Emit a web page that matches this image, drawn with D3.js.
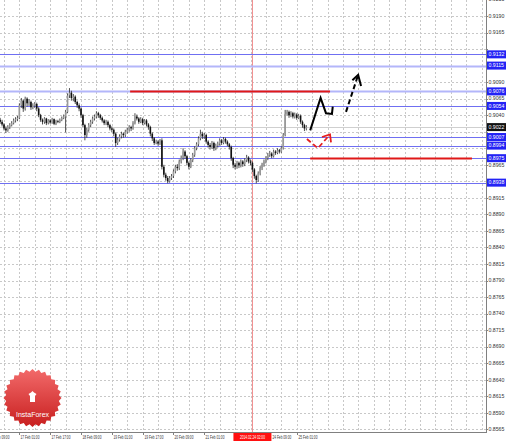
<!DOCTYPE html>
<html><head><meta charset="utf-8">
<script src="https://cdn.jsdelivr.net/npm/d3@7"></script>
<style>body{margin:0;background:#fff}svg{display:block}</style>
</head><body><svg id="c" width="510" height="443"></svg>
<script>
// ---------- DATA ----------
const firstBar = -10; // bar index of first candle (index 0 = 17 Feb 01:00, H1)
const barOpen = [0.9033,0.9030,0.9026,0.9020,0.9017,0.9022,0.9025,0.9028,0.9032,0.9034,
0.9036,0.9055,0.9062,0.9050,0.9065,0.9058,0.9060,0.9052,0.9055,0.9057,0.9050,0.9040,0.9033,
0.9030,0.9035,0.9028,0.9032,0.9029,0.9034,0.9027,0.9031,0.9030,0.9033,0.9036,
0.9038,0.9045,0.9070,0.9074,0.9066,0.9068,0.9060,0.9055,0.9050,0.9040,0.9025,0.9010,
0.9018,0.9025,0.9030,0.9035,0.9038,0.9043,0.9040,0.9036,0.9032,0.9028,0.9030,0.9025,0.9020,0.9018,
0.9012,0.8998,0.9003,0.9008,0.9012,0.9010,0.9015,0.9018,0.9022,0.9020,0.9028,
0.9038,0.9035,0.9030,0.9034,0.9028,0.9032,0.9026,0.9022,0.9012,0.9005,0.8998,0.9000,0.8997,
0.9002,0.8962,0.8950,0.8945,0.8940,0.8945,0.8948,0.8955,0.8962,0.8960,0.8970,0.8975,0.8985,
0.8978,0.8968,0.8962,0.8972,0.8980,0.8990,0.8996,0.9005,0.9012,0.9008,0.9010,
0.9000,0.8995,0.8992,0.8998,0.8990,0.8994,0.8997,0.9002,0.8998,0.9004,0.9000,0.8996,
0.8992,0.8975,0.8965,0.8962,0.8968,0.8964,0.8970,0.8966,0.8972,0.8976,0.8970,
0.8968,0.8958,0.8948,0.8942,0.8952,0.8960,0.8965,0.8970,0.8975,0.8980,0.8982,0.8978,0.8985,
0.8983,0.8987,0.8985,0.8990,0.9010,0.9042,0.9045,0.9040,0.9043,0.9038,0.9041,0.9036,
0.9039,0.9030,0.9025,0.9020];
const barHigh = [0.9036,0.9033,0.9028,0.9023,0.9025,0.9028,0.9031,0.9035,0.9037,0.9039,
0.9058,0.9066,0.9064,0.9068,0.9067,0.9064,0.9062,0.9058,0.9060,0.9059,0.9052,0.9042,0.9035,
0.9037,0.9036,0.9034,0.9034,0.9036,0.9035,0.9033,0.9033,0.9035,0.9038,0.9041,
0.9048,0.9073,0.9081,0.9077,0.9072,0.9070,0.9062,0.9058,0.9052,0.9042,0.9027,0.9021,
0.9028,0.9033,0.9038,0.9041,0.9046,0.9045,0.9042,0.9038,0.9034,0.9033,0.9032,0.9027,0.9023,0.9020,
0.9014,0.9006,0.9011,0.9015,0.9014,0.9018,0.9021,0.9025,0.9024,0.9031,0.9043,
0.9041,0.9037,0.9037,0.9036,0.9034,0.9034,0.9028,0.9024,0.9014,0.9007,0.9003,0.9002,0.9004,
0.9005,0.8965,0.8953,0.8948,0.8948,0.8951,0.8958,0.8965,0.8966,0.8973,0.8979,0.8990,
0.8987,0.8980,0.8970,0.8975,0.8983,0.8993,0.8999,0.9008,0.9018,0.9015,0.9013,
0.9012,0.9002,0.8998,0.9001,0.9000,0.8997,0.9000,0.9005,0.9004,0.9007,0.9006,0.9002,
0.8998,0.8994,0.8977,0.8968,0.8971,0.8970,0.8973,0.8972,0.8975,0.8980,0.8978,
0.8973,0.8970,0.8960,0.8950,0.8955,0.8963,0.8968,0.8973,0.8978,0.8983,0.8986,0.8984,0.8988,
0.8987,0.8990,0.8989,0.8993,0.9013,0.9048,0.9048,0.9047,0.9046,0.9045,0.9044,0.9043,
0.9042,0.9041,0.9032,0.9027,0.9025];
const barLow = [0.9027,0.9023,0.9017,0.9013,0.9015,0.9019,0.9023,0.9026,0.9029,0.9031,
0.9034,0.9051,0.9045,0.9047,0.9053,0.9054,0.9048,0.9049,0.9051,0.9046,0.9037,0.9030,0.9026,
0.9027,0.9025,0.9026,0.9027,0.9027,0.9025,0.9025,0.9028,0.9028,0.9031,0.9034,
0.9014,0.9043,0.9066,0.9062,0.9061,0.9057,0.9051,0.9046,0.9036,0.9022,0.9002,0.9006,
0.9015,0.9022,0.9027,0.9032,0.9035,0.9036,0.9033,0.9029,0.9025,0.9025,0.9022,0.9017,0.9014,0.9008,
0.8992,0.8995,0.9000,0.9005,0.9006,0.9007,0.9012,0.9015,0.9016,0.9018,0.9026,
0.9032,0.9027,0.9028,0.9025,0.9026,0.9023,0.9018,0.9008,0.9001,0.8995,0.8996,0.8994,0.8995,
0.8958,0.8946,0.8941,0.8937,0.8938,0.8942,0.8945,0.8952,0.8956,0.8957,0.8967,0.8972,
0.8974,0.8964,0.8958,0.8960,0.8969,0.8977,0.8987,0.8993,0.9002,0.9004,0.9004,
0.8997,0.8991,0.8988,0.8989,0.8986,0.8987,0.8991,0.8994,0.8995,0.8996,0.8997,0.8993,
0.8988,0.8971,0.8960,0.8958,0.8959,0.8960,0.8961,0.8962,0.8963,0.8969,0.8967,
0.8964,0.8954,0.8944,0.8937,0.8939,0.8949,0.8957,0.8962,0.8967,0.8972,0.8977,0.8975,0.8976,
0.8980,0.8981,0.8982,0.8983,0.8988,0.9008,0.9039,0.9036,0.9037,0.9035,0.9035,0.9033,
0.9034,0.9027,0.9021,0.9016,0.9017];
const barClose = [0.9030,0.9026,0.9020,0.9017,0.9022,0.9025,0.9028,0.9032,0.9034,0.9036,
0.9055,0.9062,0.9050,0.9065,0.9058,0.9060,0.9052,0.9055,0.9057,0.9050,0.9040,0.9033,0.9030,
0.9035,0.9028,0.9032,0.9029,0.9034,0.9027,0.9031,0.9030,0.9033,0.9036,0.9038,
0.9045,0.9070,0.9074,0.9066,0.9068,0.9060,0.9055,0.9050,0.9040,0.9025,0.9010,0.9018,
0.9025,0.9030,0.9035,0.9038,0.9043,0.9040,0.9036,0.9032,0.9028,0.9030,0.9025,0.9020,0.9018,0.9012,
0.8998,0.9003,0.9008,0.9012,0.9010,0.9015,0.9018,0.9022,0.9020,0.9028,0.9038,
0.9035,0.9030,0.9034,0.9028,0.9032,0.9026,0.9022,0.9012,0.9005,0.8998,0.9000,0.8997,0.9002,
0.8962,0.8950,0.8945,0.8940,0.8945,0.8948,0.8955,0.8962,0.8960,0.8970,0.8975,0.8985,
0.8978,0.8968,0.8962,0.8972,0.8980,0.8990,0.8996,0.9005,0.9012,0.9008,0.9010,0.9000,
0.8995,0.8992,0.8998,0.8990,0.8994,0.8997,0.9002,0.8998,0.9004,0.9000,0.8996,0.8992,
0.8975,0.8965,0.8962,0.8968,0.8964,0.8970,0.8966,0.8972,0.8976,0.8970,0.8968,
0.8958,0.8948,0.8942,0.8952,0.8960,0.8965,0.8970,0.8975,0.8980,0.8982,0.8978,0.8985,0.8983,
0.8987,0.8985,0.8990,0.9010,0.9042,0.9045,0.9040,0.9043,0.9038,0.9041,0.9036,0.9039,
0.9030,0.9025,0.9020,0.9022];

const priceTickLabels = ["0.9215","0.9190","0.9165","0.9140","0.9115","0.9090","0.9065","0.9040","0.9015",
"0.8990","0.8965","0.8940","0.8915","0.8890","0.8865","0.8840","0.8815","0.8790","0.8765","0.8740",
"0.8715","0.8690","0.8665","0.8640","0.8615","0.8590","0.8565"];
const timeTickIndex = [-16,0,16,32,48,64,80,96,112,128,144];
const timeTickLabels = ["16 Feb 09:00","17 Feb 01:00","17 Feb 17:00","18 Feb 09:00","19 Feb 01:00",
"19 Feb 17:00","20 Feb 09:00","21 Feb 01:00","21 Feb 17:00","24 Feb 09:00","25 Feb 01:00"];

const levelPrices = [0.9132,0.9115,0.9076,0.9054,0.9007,0.8994,0.8975,0.8938];
const levelLabels = ["0.9132","0.9115","0.9076","0.9054","0.9007","0.8994","0.8975","0.8938"];
const currentPrice = 0.9022;
const currentLabel = "0.9022";
const cursorIndex = 121;
const cursorLabel = "2014.02.24 02:00";
// red target segments: [price, fromIndex, toIndex]
const redSegPrice = [0.9076, 0.8975];
const redSegFrom = [57.5, 151];
const redSegTo = [161.3, 235];
// forecast arrows (bar index, price)
const blackSolidIdx = [151, 156.4, 159.2, 162.3, 162.7];
const blackSolidPx  = [0.9017, 0.9066, 0.9043, 0.9042, 0.9053];
const blackDashIdx = [169.6, 175.9];
const blackDashPx  = [0.9045, 0.9101];
const blackHeadIdx = [172.9, 175.9, 177.4];
const blackHeadPx  = [0.9093, 0.9101, 0.9084];
const redDashIdx = [149.3, 155, 161.3];
const redDashPx  = [0.9004, 0.8990, 0.9011];
const redHeadIdx = [157.1, 161.3, 161.8];
const redHeadPx  = [0.9007, 0.9011, 0.8999];

// ---------- CHART ----------
const svg = d3.select("#c");
const W = 486, H = 432;
const x = d3.scaleLinear().domain([0, 240]).range([19.4, 481.6]);
const y = d3.scaleLinear().domain([0.8565, 0.9190]).range([429.3, 16]);

const plot = svg.append("g");
plot.append("defs").append("clipPath").attr("id","pc").append("rect").attr("width",W).attr("height",H);
const gp = plot.append("g").attr("clip-path","url(#pc)");

// grid
const vGrid = d3.range(-8, 241, 8);
gp.selectAll(".vg").data(vGrid).join("line")
  .attr("x1", d=>Math.round(x(d))+0.5).attr("x2", d=>Math.round(x(d))+0.5)
  .attr("y1",0).attr("y2",H)
  .attr("stroke","#c8c8c8").attr("stroke-dasharray","2,2").attr("stroke-width",1);
gp.selectAll(".hg").data(priceTickLabels).join("line")
  .attr("x1",0).attr("x2",W)
  .attr("y1", d=>Math.round(y(+d))+0.5).attr("y2", d=>Math.round(y(+d))+0.5)
  .attr("stroke","#c8c8c8").attr("stroke-dasharray","2,2").attr("stroke-width",1);

// cursor line
gp.append("line").attr("x1",x(cursorIndex)).attr("x2",x(cursorIndex)).attr("y1",0).attr("y2",H)
  .attr("stroke","#f08a8a").attr("stroke-width",1);

// level lines
const lightLevels = new Set([0.9115, 0.9076]);
gp.selectAll(".lv").data(levelPrices).join("line")
  .attr("x1",0).attr("x2",W)
  .attr("y1", d=>Math.round(y(d))+0.5).attr("y2", d=>Math.round(y(d))+0.5)
  .attr("stroke", d=>lightLevels.has(d) ? "#b3b6fa" : "#6f6ff2")
  .attr("stroke-width", d=>lightLevels.has(d) ? 2 : 1.2);
gp.append("line").attr("x1",0).attr("x2",W)
  .attr("y1",Math.round(y(currentPrice))+0.5).attr("y2",Math.round(y(currentPrice))+0.5)
  .attr("stroke","#cfcfcf").attr("stroke-width",1);

// red segments
redSegPrice.forEach((p,k)=>{
  gp.append("line").attr("x1",x(redSegFrom[k])).attr("x2",x(redSegTo[k]))
    .attr("y1",Math.round(y(p))+0.5).attr("y2",Math.round(y(p))+0.5)
    .attr("stroke","#e01818").attr("stroke-width",2);
});

// candles
const bars = barClose.map((c,k)=>({i:firstBar+k,o:barOpen[k],h:barHigh[k],l:barLow[k],c}));
gp.selectAll(".wk").data(bars).join("line")
  .attr("x1",d=>x(d.i)).attr("x2",d=>x(d.i))
  .attr("y1",d=>y(d.h)).attr("y2",d=>y(d.l))
  .attr("stroke","#3a3a3a").attr("stroke-width",0.9);
gp.selectAll(".bd").data(bars).join("rect")
  .attr("x",d=>x(d.i)-0.8).attr("width",1.6)
  .attr("y",d=>y(Math.max(d.o,d.c))).attr("height",d=>Math.max(0.8, Math.abs(y(d.o)-y(d.c))))
  .attr("fill",d=>d.c>=d.o ? "#9a9a9a" : "#111");

// forecast arrows
const ln = d3.line().x(d=>x(d[0])).y(d=>y(d[1]));
gp.append("path").attr("d", ln(blackSolidIdx.map((v,k)=>[v,blackSolidPx[k]])))
  .attr("fill","none").attr("stroke","#000").attr("stroke-width",2).attr("stroke-linejoin","miter");
gp.append("path").attr("d", ln(blackDashIdx.map((v,k)=>[v,blackDashPx[k]])))
  .attr("fill","none").attr("stroke","#000").attr("stroke-width",2).attr("stroke-dasharray","5,3");
gp.append("path").attr("d", ln(blackHeadIdx.map((v,k)=>[v,blackHeadPx[k]])))
  .attr("fill","none").attr("stroke","#000").attr("stroke-width",2);
gp.append("path").attr("d", ln(redDashIdx.map((v,k)=>[v,redDashPx[k]])))
  .attr("fill","none").attr("stroke","#e52020").attr("stroke-width",1.8).attr("stroke-dasharray","5,3");
gp.append("path").attr("d", ln(redHeadIdx.map((v,k)=>[v,redHeadPx[k]])))
  .attr("fill","none").attr("stroke","#e52020").attr("stroke-width",1.8);

// axes frame
svg.append("line").attr("x1",W+0.5).attr("x2",W+0.5).attr("y1",0).attr("y2",H+1).attr("stroke","#808080");
svg.append("line").attr("x1",0).attr("x2",W+1).attr("y1",H+0.5).attr("y2",H+0.5).attr("stroke","#808080");

// price tick labels (hidden where level boxes sit)
const boxYs = levelPrices.concat([currentPrice]).map(p=>y(p));
const priceAxis = svg.append("g").attr("font-family","Liberation Sans, Arial, sans-serif").attr("font-size",5.2).attr("fill","#333");
priceTickLabels.forEach(t=>{
  const yy = y(+t);
  priceAxis.append("line").attr("x1",W).attr("x2",W+2).attr("y1",Math.round(yy)+0.5).attr("y2",Math.round(yy)+0.5).attr("stroke","#808080");
  if (boxYs.some(b=>Math.abs(b-yy)<6)) return;
  priceAxis.append("text").attr("x",W+2.5).attr("y",yy+1.8).text(t);
});

// level label boxes
const boxG = svg.append("g").attr("font-family","Liberation Sans, Arial, sans-serif").attr("font-size",5.2);
levelPrices.forEach((p,k)=>{
  const yy = y(p);
  boxG.append("rect").attr("x",W+1).attr("y",yy-4).attr("width",19).attr("height",8).attr("fill","#2323f5");
  boxG.append("text").attr("x",W+2.5).attr("y",yy+1.8).attr("fill","#fff").text(levelLabels[k]);
});
boxG.append("rect").attr("x",W+1).attr("y",y(currentPrice)-4).attr("width",19).attr("height",8).attr("fill","#111");
boxG.append("text").attr("x",W+2.5).attr("y",y(currentPrice)+1.8).attr("fill","#fff").text(currentLabel);

// time axis labels
const cx = x(cursorIndex);
const boxL = cx-19, boxR = cx+19;
const tG = svg.append("g").attr("font-family","Liberation Sans, Arial, sans-serif").attr("font-size",5.2).attr("fill","#333");
timeTickIndex.forEach((ti,k)=>{
  const xx = Math.round(x(ti))+0.5;
  tG.append("line").attr("x1",xx).attr("x2",xx).attr("y1",H).attr("y2",H+3).attr("stroke","#808080");
  let tx = xx+1;
  const tw = 19;
  if (tx < boxR && tx+tw > boxL) {
    if (tx > cx) tx = boxR + 1; else return;
  }
  tG.append("text").attr("transform",`translate(${tx},${H+6.5}) scale(0.62,1)`).text(timeTickLabels[k]);
});
// cursor time box
tG.append("rect").attr("x",boxL).attr("y",H+1).attr("width",38).attr("height",8).attr("fill","#ff1010");
tG.append("text").attr("transform",`translate(${cx},${H+6.5}) scale(0.62,1)`).attr("text-anchor","middle").attr("fill","#fff").text(cursorLabel);

// InstaForex badge
const defs = svg.append("defs");
const gr = defs.append("linearGradient").attr("id","bg").attr("x1",0).attr("y1",0).attr("x2",0).attr("y2",1);
gr.append("stop").attr("offset","0%").attr("stop-color","#f26a6a");
gr.append("stop").attr("offset","100%").attr("stop-color","#c81f1f");
const cxB = 32.5, cyB = 398, spikes = 28;
const pts = d3.range(spikes*2).map(k=>{
  const a = Math.PI*k/spikes - Math.PI/2, r = k%2===0 ? 29 : 26.5;
  return [cxB + r*Math.cos(a), cyB + r*Math.sin(a)];
});
svg.append("path").attr("d", "M"+pts.map(p=>p.join(",")).join("L")+"Z").attr("fill","url(#bg)");
svg.append("path").attr("d","M30,402 L30,396 L28.5,394 L31,392.5 L32.5,391 L34,392.5 L36.5,394 L35,396 L35,402 Z").attr("fill","#fff");
svg.append("text").attr("x",cxB).attr("y",417).attr("text-anchor","middle")
  .attr("font-family","Liberation Sans, Arial, sans-serif").attr("font-size",7).attr("fill","#fff").text("InstaForex");
</script></body></html>
